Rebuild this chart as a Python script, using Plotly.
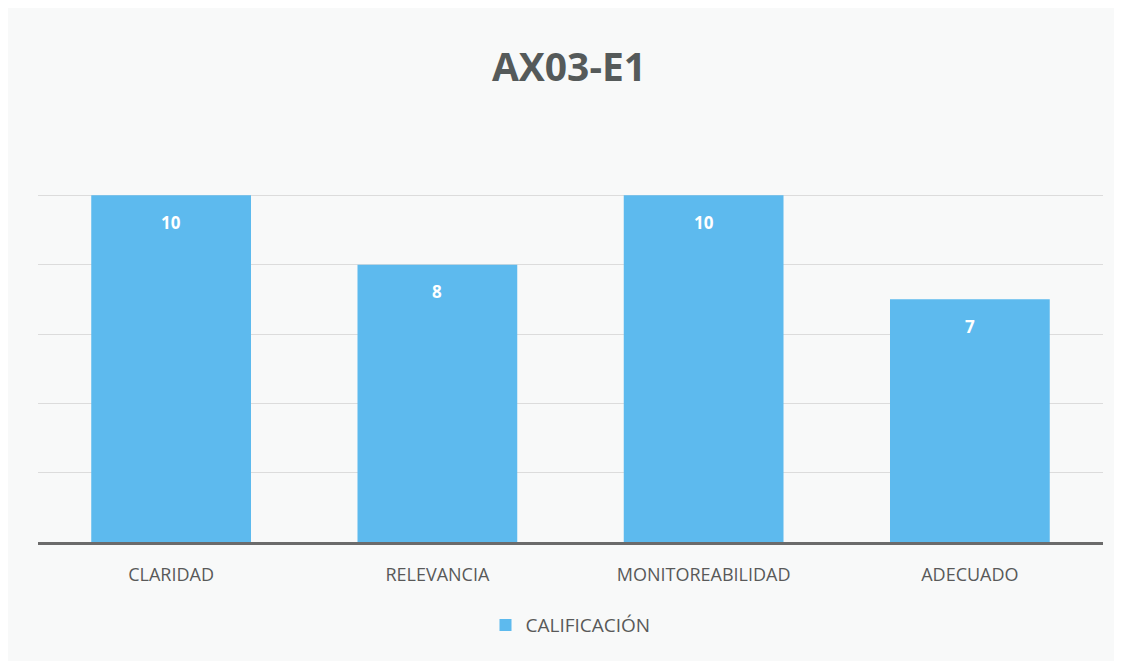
import plotly.graph_objects as go

categories = ["CLARIDAD", "RELEVANCIA", "MONITOREABILIDAD", "ADECUADO"]
values = [10, 8, 10, 7]
series_name = "CALIFICACIÓN"
title_text = "AX03-E1"

bar_color = "#5DBAEE"
text_color = "#595959"

fig = go.Figure()
fig.add_trace(go.Bar(
    x=categories, y=values, name=series_name,
    marker=dict(color=bar_color, line=dict(width=0)),
    showlegend=True,
))

for c, v in zip(categories, values):
    fig.add_annotation(x=c, y=v, text=f"<b>{v}</b>", showarrow=False,
                       yshift=-27, font=dict(color="white", size=17, family="Open Sans"))

fig.update_layout(
    width=1122, height=661,
    paper_bgcolor="#F8F9F9", plot_bgcolor="#F8F9F9",
    margin=dict(l=30, r=27, t=118, b=127),
    bargap=0.4,
    title=dict(text=f"<b>{title_text}</b>", x=0.5, xanchor="center", y=0.91, yanchor="middle",
               font=dict(size=39, color="#555a5a", family="Open Sans")),
    xaxis=dict(showline=True, linecolor="#6b6b6b", linewidth=3, showgrid=False,
               tickfont=dict(size=18, color=text_color, family="Open Sans"), ticks="",
               ticklabelstandoff=14),
    yaxis=dict(range=[0, 12], dtick=2, showticklabels=False, showgrid=True,
               gridcolor="#DCDCDC", gridwidth=1, zeroline=False),
    legend=dict(orientation="h", x=0.5, xanchor="center", y=-0.2, yanchor="middle",
                font=dict(size=19, color=text_color, family="Open Sans"),
                itemwidth=30),
    font=dict(family="Open Sans"),
)

fig.write_html("out.html")
